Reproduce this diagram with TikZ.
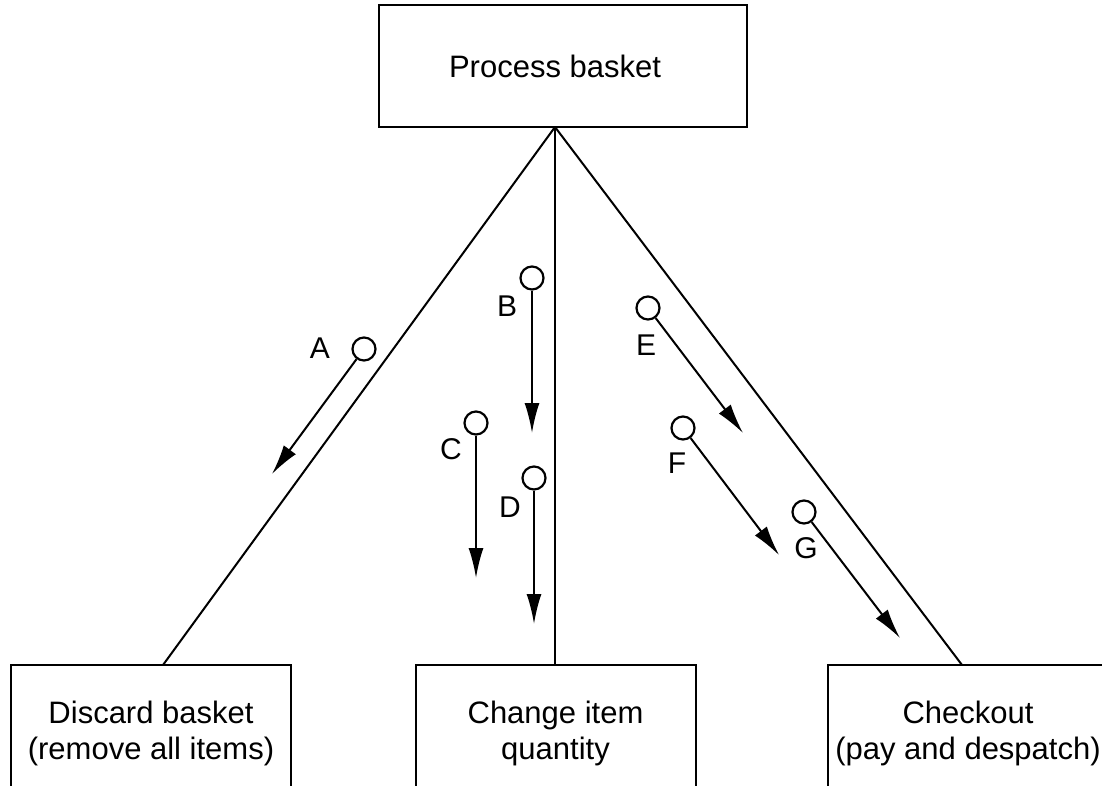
\documentclass[tikz,border=0pt]{standalone}
\usepackage{fontspec}
\setmainfont{Liberation Sans}
\usetikzlibrary{arrows.meta}
\begin{document}
\begin{tikzpicture}[x=0.5pt,y=-0.5pt,
 box/.style={draw,line width=1pt,rectangle,inner sep=0pt,align=center,font=\fontsize{15.5}{18}\selectfont},
 link/.style={line width=1pt},
 dot/.style={draw,circle,line width=1.1pt,minimum size=11.5pt,inner sep=0pt},
 lab/.style={font=\fontsize{15}{18}\selectfont,inner sep=0pt},
 arr/.style={line width=1pt,-{Latex[length=15pt,width=7.5pt]}}]
\useasboundingbox (0,0) rectangle (1102,786);
\clip (0,0) rectangle (1102,786);
% boxes
\node[box,minimum width=184pt,minimum height=61pt] (pb) at (563,66) {\raisebox{-2.5pt}{Process basket}\hspace*{8pt}};
\node[box,minimum width=140pt,minimum height=68pt] (disc) at (151,733) {Discard basket\\(remove all items)};
\node[box,minimum width=140pt,minimum height=68pt] (chg) at (555.5,733) {Change item\\quantity};
\node[box,minimum width=140pt,minimum height=68pt] (chk) at (968,733) {Checkout\\(pay and despatch)};
% tree lines
\coordinate (apex) at (555,127);
\coordinate (dtop) at (163,665);
\coordinate (ctop) at (555,665);
\coordinate (ktop) at (962,665);
\draw[link] (apex) -- (dtop);
\draw[link] (apex) -- (ctop);
\draw[link] (apex) -- (ktop);
% data couples
\node[dot] (cA) at (364,349) {}; \node[lab] (lA) at (320,348) {A}; \coordinate (tA) at (272,474); \draw[arr] (cA) -- (tA);
\node[dot] (cB) at (532,278) {}; \node[lab] (lB) at (507,306) {B}; \coordinate (tB) at (532,433); \draw[arr] (cB) -- (tB);
\node[dot] (cC) at (476,423) {}; \node[lab] (lC) at (451,449) {C}; \coordinate (tC) at (476,578); \draw[arr] (cC) -- (tC);
\node[dot] (cD) at (534,478) {}; \node[lab] (lD) at (510,507) {D}; \coordinate (tD) at (534,624); \draw[arr] (cD) -- (tD);
\node[dot] (cE) at (648,308) {}; \node[lab] (lE) at (646,345) {E}; \coordinate (tE) at (743,433); \draw[arr] (cE) -- (tE);
\node[dot] (cF) at (683,428) {}; \node[lab] (lF) at (677,463) {F}; \coordinate (tF) at (779,555); \draw[arr] (cF) -- (tF);
\node[dot] (cG) at (804,512) {}; \node[lab] (lG) at (806,548) {G}; \coordinate (tG) at (900,638); \draw[arr] (cG) -- (tG);
\end{tikzpicture}
\end{document}
